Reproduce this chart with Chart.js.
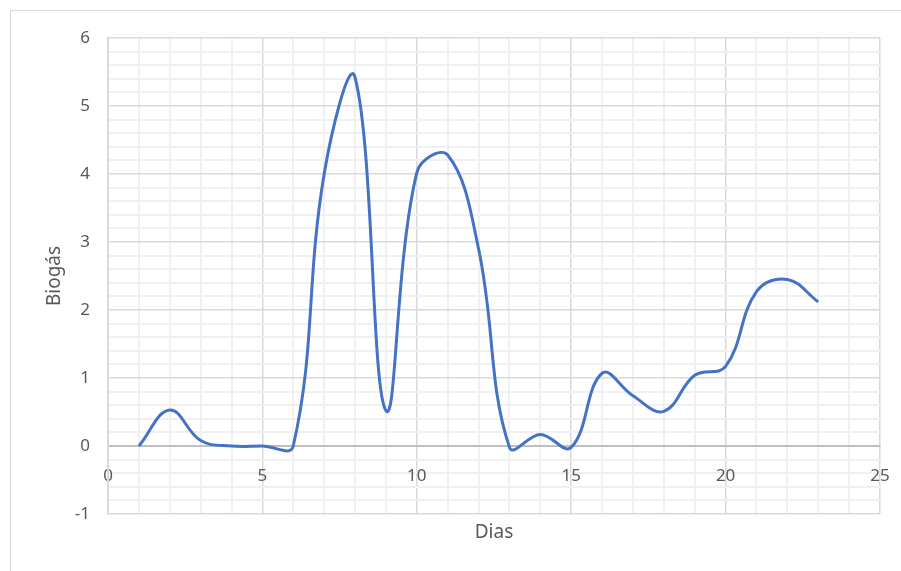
<!DOCTYPE html>
<html lang="pt">
<head>
    <meta charset="UTF-8">
    <title>Biogás</title>
    <script src="https://cdn.jsdelivr.net/npm/chart.js"></script>
    <style>
        html, body { margin: 0; padding: 0; background: #ffffff; }
        #grafico { display: block; }
    </style>
</head>
<body>
    <canvas id="grafico" width="901" height="571"></canvas>
<script>
    // dados
    const dias = [1, 2, 3, 4, 5, 6, 7, 8, 9, 10, 11, 12, 13, 14, 15, 16, 17, 18, 19, 20, 21, 22, 23];
    const biogas = [0, 0.53, 0.08, 0, 0, 0, 4.0, 5.42, 0.52, 4.02, 4.28, 2.9, -0.02, 0.17, -0.02, 1.07, 0.74, 0.51, 1.04, 1.17, 2.27, 2.45, 2.12];
    const tituloX = 'Dias';
    const tituloY = 'Biogás';

    const fonte = '"Noto Sans", "Open Sans", sans-serif';
    const corTexto = '#595959';

    function ehInteiro(v) {
        return Math.abs(v - Math.round(v)) < 1e-6;
    }

    // moldura e títulos dos eixos
    const extras = {
        id: 'extras',
        beforeDraw(chart) {
            const ctx = chart.ctx;
            ctx.save();
            ctx.fillStyle = '#ffffff';
            ctx.fillRect(0, 0, chart.width, chart.height);
            ctx.strokeStyle = '#d9d9d9';
            ctx.lineWidth = 1;
            ctx.strokeRect(10.5, 10.5, chart.width + 20, chart.height + 20);
            ctx.restore();
        },
        afterDraw(chart) {
            const ctx = chart.ctx;
            const area = chart.chartArea;
            ctx.save();
            ctx.fillStyle = corTexto;
            ctx.font = '19px ' + fonte;
            ctx.textAlign = 'center';
            ctx.textBaseline = 'middle';
            ctx.fillText(tituloX, (area.left + area.right) / 2, 533);
            ctx.translate(55, (area.top + area.bottom) / 2);
            ctx.rotate(-Math.PI / 2);
            ctx.fillText(tituloY, 0, 0);
            ctx.restore();
        }
    };

    const pontos = dias.map(function (d, i) { return { x: d, y: biogas[i] }; });

    new Chart(document.getElementById('grafico'), {
        type: 'line',
        data: {
            datasets: [{
                label: tituloY,
                data: pontos,
                borderColor: '#4472C4',
                borderWidth: 3,
                pointRadius: 0,
                fill: false,
                tension: 0.4
            }]
        },
        options: {
            responsive: false,
            animation: false,
            layout: { padding: { left: 0, top: 38, right: 21, bottom: 57 } },
            plugins: {
                legend: { display: false },
                tooltip: { enabled: false }
            },
            scales: {
                x: {
                    type: 'linear',
                    position: { y: 0 },
                    min: 0,
                    max: 25,
                    afterFit: function (scale) { scale.paddingRight = 0; scale.paddingLeft = 0; },
                    ticks: {
                        stepSize: 1,
                        autoSkip: false,
                        maxRotation: 0,
                        padding: 20,
                        color: corTexto,
                        font: { family: fonte, size: 17 },
                        callback: function (v) { return v % 5 === 0 ? v : ''; }
                    },
                    grid: {
                        drawTicks: false,
                        color: function (c) { return c.tick && c.tick.value % 5 === 0 ? '#d9d9d9' : '#f0f0f0'; },
                        lineWidth: function (c) { return c.tick && c.tick.value % 5 === 0 ? 1.5 : 2; }
                    },
                    border: { color: '#bfbfbf', width: 2 }
                },
                y: {
                    min: -1,
                    max: 6,
                    afterFit: function (scale) { scale.width = 108; },
                    ticks: {
                        stepSize: 0.2,
                        autoSkip: false,
                        padding: 18,
                        color: corTexto,
                        font: { family: fonte, size: 17 },
                        callback: function (v) { return ehInteiro(v) ? Math.round(v) : ''; }
                    },
                    grid: {
                        drawTicks: false,
                        color: function (c) { return c.tick && ehInteiro(c.tick.value) ? '#d9d9d9' : '#f0f0f0'; },
                        lineWidth: function (c) { return c.tick && ehInteiro(c.tick.value) ? 1.5 : 2; }
                    },
                    border: { color: '#d9d9d9', width: 2 }
                }
            }
        },
        plugins: [extras]
    });
</script>
</body>
</html>
